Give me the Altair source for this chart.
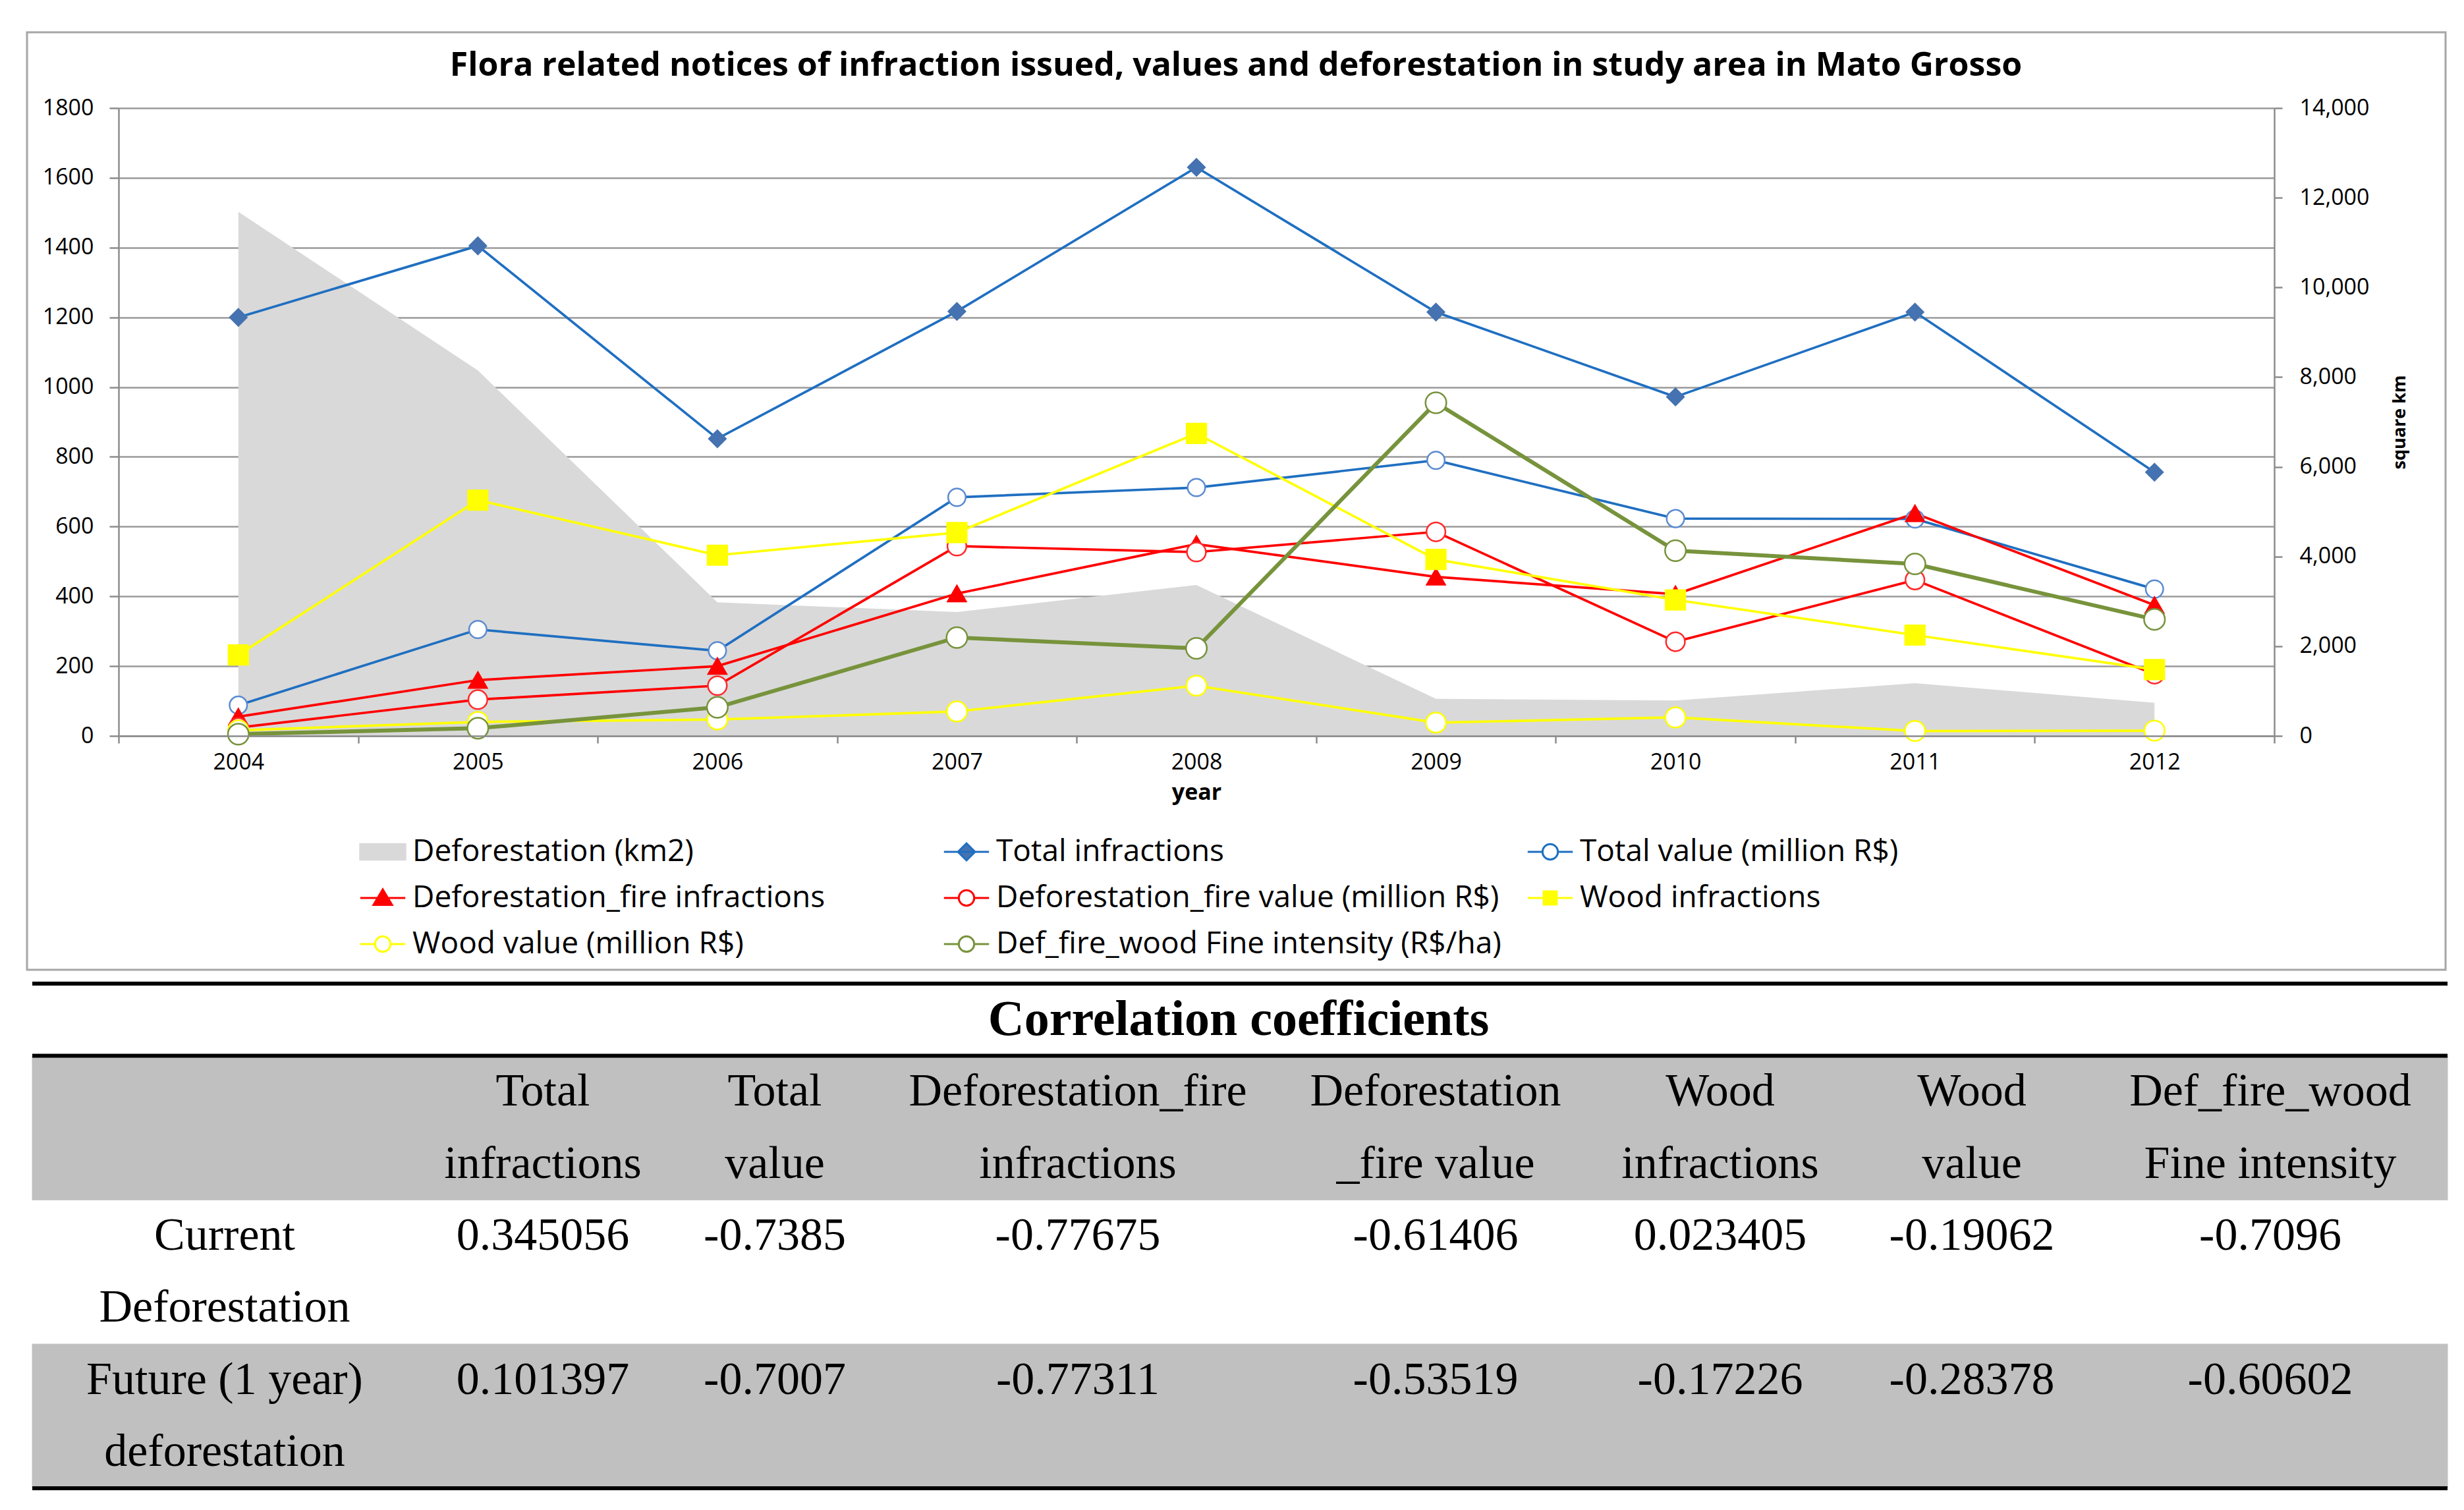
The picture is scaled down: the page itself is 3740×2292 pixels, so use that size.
import altair as alt
import pandas as pd

# ---------------- data ----------------
years = [2004, 2005, 2006, 2007, 2008, 2009, 2010, 2011, 2012]
deforestation_km2 = [11685, 8150, 2980, 2760, 3365, 825, 790, 1175, 740]
total_infractions = [1200, 1405, 852, 1217, 1630, 1215, 972, 1215, 756]
total_value = [88, 305, 244, 684, 712, 790, 623, 622, 421]
defire_infractions = [55, 160, 200, 408, 550, 456, 406, 638, 375]
defire_value = [24, 104, 144, 544, 527, 585, 270, 447, 177]
wood_infractions = [232, 676, 518, 583, 867, 506, 390, 289, 190]
wood_value = [16, 40, 47, 70, 144, 38, 53, 14, 15]
fine_intensity = [5, 22, 82, 282, 251, 955, 531, 493, 334]

series_names = [
    "Total infractions",
    "Total value (million R$)",
    "Deforestation_fire infractions",
    "Deforestation_fire value (million R$)",
    "Wood infractions",
    "Wood value (million R$)",
    "Def_fire_wood Fine intensity (R$/ha)",
]
series_values = [total_infractions, total_value, defire_infractions, defire_value,
                 wood_infractions, wood_value, fine_intensity]
area_name = "Deforestation (km2)"
chart_title = "Flora related notices of infraction issued, values and deforestation in study area in Mato Grosso"

line_colors = ["#1f6fc1", "#1f6fc1", "#ff0000", "#ff0000", "#ffff00", "#ffff00", "#77933c"]
marker_shapes = ["diamond", "circle", "triangle-up", "circle", "square", "circle", "circle"]
marker_fills = ["#4572b0", "white", "#ff0000", "white", "#ffff00", "white", "white"]
marker_strokes = ["#4572b0", "#5b8bd0", "#ff0000", "#ff2a2a", "#ffff00", "#ffff00", "#77933c"]
marker_sizes = [650, 1000, 800, 1000, 420, 1000, 1000]

# table
table_title = "Correlation coefficients"
header_line1 = ["", "Total", "Total", "Deforestation_fire", "Deforestation", "Wood", "Wood", "Def_fire_wood"]
header_line2 = ["", "infractions", "value", "infractions", "_fire value", "infractions", "value", "Fine intensity"]
row_label_line1 = ["Current", "Future (1 year)"]
row_label_line2 = ["Deforestation", "deforestation"]
current_corr = [0.345056, -0.7385, -0.77675, -0.61406, 0.023405, -0.19062, -0.7096]
future_corr = [0.101397, -0.7007, -0.77311, -0.53519, -0.17226, -0.28378, -0.60602]

FONT = "Open Sans"
SERIF = "Liberation Serif"
W, H = 3272, 953

# ---------------- frames ----------------
long_rows = []
for name, vals in zip(series_names, series_values):
    for y, v in zip(years, vals):
        long_rows.append({"year": y, "series": name, "value": v})
df_long = pd.DataFrame(long_rows)
df_area = pd.DataFrame({"year": years, "defor": deforestation_km2})

x_enc = alt.X(
    "year:O",
    scale=alt.Scale(type="band", paddingInner=0, paddingOuter=0),
    axis=alt.Axis(
        title="year", titleFont=FONT, titleFontWeight="bold", titleFontSize=34,
        titlePadding=12, titleColor="black",
        labelFont=FONT, labelFontSize=34, labelAngle=0, labelPadding=12, labelColor="black",
        tickBand="extent", tickSize=11, tickColor="#8c8c8c", tickWidth=2.5,
        domainColor="#8c8c8c", domainWidth=2.5, grid=False, zindex=1,
    ),
)

y_left = alt.Y(
    "value:Q",
    scale=alt.Scale(domain=[0, 1800], nice=False),
    axis=alt.Axis(
        title=None, values=list(range(0, 1801, 200)), format="d",
        grid=True, gridColor="#9a9a9a", gridWidth=2.5,
        domainColor="#8c8c8c", domainWidth=2.5, tickColor="#8c8c8c", tickWidth=2.5,
        tickSize=14, labelPadding=24, labelFont=FONT, labelFontSize=34, labelColor="black",
    ),
)

area = alt.Chart(df_area).mark_area(color="#d9d9d9", opacity=1).encode(
    x=x_enc,
    y=alt.Y(
        "defor:Q",
        scale=alt.Scale(domain=[0, 14000], nice=False),
        axis=alt.Axis(
            orient="right", values=list(range(0, 14001, 2000)), format=",d",
            grid=False, domainColor="#8c8c8c", domainWidth=2.5, tickColor="#8c8c8c",
            tickWidth=2.5, tickSize=12, labelPadding=26, labelFont=FONT, labelFontSize=34,
            labelColor="black", title="square km", titleFont=FONT, titleFontSize=27,
            titleFontWeight="bold", titleAngle=270, titlePadding=60, titleColor="black",
        ),
    ),
)

color_enc = alt.Color("series:N", scale=alt.Scale(domain=series_names, range=line_colors), legend=None)
thin_names = series_names[:-1]
lines_thin = alt.Chart(df_long).transform_filter(
    alt.FieldOneOfPredicate(field="series", oneOf=thin_names)
).mark_line(strokeWidth=3.7).encode(x=x_enc, y=y_left, color=color_enc)
lines_thick = alt.Chart(df_long).transform_filter(
    alt.FieldEqualPredicate(field="series", equal=series_names[-1])
).mark_line(strokeWidth=6).encode(x=x_enc, y=y_left, color=color_enc)

points = alt.Chart(df_long).mark_point(filled=True, opacity=1, strokeWidth=2.5).encode(
    x=x_enc,
    y=y_left,
    shape=alt.Shape("series:N", scale=alt.Scale(domain=series_names, range=marker_shapes), legend=None),
    fill=alt.Fill("series:N", scale=alt.Scale(domain=series_names, range=marker_fills), legend=None),
    stroke=alt.Stroke("series:N", scale=alt.Scale(domain=series_names, range=marker_strokes), legend=None),
    size=alt.Size("series:N", scale=alt.Scale(domain=series_names, range=marker_sizes), legend=None),
)

title_mark = alt.Chart(pd.DataFrame({"t": [chart_title]})).mark_text(
    font=FONT, fontSize=50, fontWeight="bold", color="black", align="center", baseline="middle"
).encode(text="t:N", x=alt.value(1696), y=alt.value(-64))

# ---------------- legend (native legend, custom line+marker symbols) ----------------
seg = "M-1.9,0H-0.65M0.65,0H1.9"
circ = "M-0.65,0A0.65,0.65 0 1,0 0.65,0A0.65,0.65 0 1,0 -0.65,0Z"
legend_entries = [area_name] + series_names
legend_shapes = [
    "M-1.9,-0.65H1.9V0.65H-1.9Z",
    "M-1.9,0H1.9M-0.72,0L0,-0.72L0.72,0L0,0.72Z",
    seg + circ,
    "M-1.9,0H1.9M0,-0.72L0.78,0.58L-0.78,0.58Z",
    seg + circ,
    "M-1.9,0H1.9M-0.55,-0.55H0.55V0.55H-0.55Z",
    seg + circ,
    seg + circ,
]
legend_strokes = ["#d9d9d9"] + line_colors
legend_fills = ["#d9d9d9"] + marker_fills

leg_def = alt.Legend(
    orient="none", legendX=378, legendY=1106, columns=3, direction="horizontal",
    gridAlign="all", columnPadding=33, rowPadding=24, symbolSize=1296,
    symbolStrokeWidth=3, labelFont=FONT, labelFontSize=46, labelColor="black",
    labelOffset=22, labelLimit=2000, title=None, padding=0,
)
legend_layer = alt.Chart(pd.DataFrame({"entry": legend_entries})).transform_filter("false").mark_point(
    filled=True, opacity=1
).encode(
    shape=alt.Shape("entry:N", scale=alt.Scale(domain=legend_entries, range=legend_shapes), legend=leg_def),
    stroke=alt.Stroke("entry:N", scale=alt.Scale(domain=legend_entries, range=legend_strokes), legend=leg_def),
    fill=alt.Fill("entry:N", scale=alt.Scale(domain=legend_entries, range=legend_fills), legend=leg_def),
)

# ---------------- frame around the chart panel ----------------
frame = alt.Chart(pd.DataFrame({"k": [0]})).mark_rect(
    filled=False, stroke="#a6a6a6", strokeWidth=3
).encode(x=alt.value(-139), x2=alt.value(3532), y=alt.value(-115), y2=alt.value(1308))

# ---------------- table ----------------
cells = []
for c in range(1, 8):
    cells.append({"col": c, "slot": 1, "text": header_line1[c]})
    cells.append({"col": c, "slot": 2, "text": header_line2[c]})
for r in range(2):
    cells.append({"col": 0, "slot": 3 + 2 * r, "text": row_label_line1[r]})
    cells.append({"col": 0, "slot": 4 + 2 * r, "text": row_label_line2[r]})
for c in range(7):
    cells.append({"col": c + 1, "slot": 3, "text": str(current_corr[c])})
    cells.append({"col": c + 1, "slot": 5, "text": str(future_corr[c])})
df_cells = pd.DataFrame(cells)

slot_scale = alt.Scale(type="band", domain=list(range(7)), range=[1329, 2095], paddingInner=0, paddingOuter=0)
col_scale = alt.Scale(type="linear", domain=list(range(8)),
                      range=[161, 644, 996, 1456, 1999, 2431, 2813, 3266])

t_bg = alt.Chart(pd.DataFrame({"slot": [1, 2, 5, 6]})).mark_rect(color="#c0c0c0", stroke="#c0c0c0", strokeWidth=1).encode(
    y=alt.Y("slot:O", scale=slot_scale, axis=None), x=alt.value(-131), x2=alt.value(3535)
)
t_rules_top = alt.Chart(pd.DataFrame({"slot": [0, 1]})).mark_rule(color="black", strokeWidth=6).encode(
    y=alt.Y("slot:O", scale=slot_scale, axis=None, bandPosition=0), x=alt.value(-131), x2=alt.value(3535)
)
t_rule_bottom = alt.Chart(pd.DataFrame({"slot": [6]})).mark_rule(color="black", strokeWidth=6).encode(
    y=alt.Y("slot:O", scale=slot_scale, axis=None, bandPosition=1), x=alt.value(-131), x2=alt.value(3535)
)
t_title = alt.Chart(pd.DataFrame({"slot": [0], "text": [table_title]})).mark_text(
    font=SERIF, fontSize=76, fontWeight="bold", color="black", baseline="middle", align="center"
).encode(y=alt.Y("slot:O", scale=slot_scale, axis=None), x=alt.value(1700), text="text:N")
t_text = alt.Chart(df_cells).mark_text(
    font=SERIF, fontSize=70, color="black", baseline="middle", align="center"
).encode(
    x=alt.X("col:Q", scale=col_scale, axis=None),
    y=alt.Y("slot:O", scale=slot_scale, axis=None),
    text="text:N",
)
table = alt.layer(t_bg, t_rules_top, t_rule_bottom, t_title, t_text)

# ---------------- compose ----------------
plot = alt.layer(area, alt.layer(lines_thin, lines_thick, points)).resolve_scale(y="independent")
with_legend = alt.layer(plot, legend_layer).resolve_scale(
    shape="independent", fill="independent", stroke="independent"
)
chart = alt.layer(frame, title_mark, with_legend, table).resolve_scale(
    x="independent", y="independent"
).properties(
    width=W,
    height=H,
    padding={"left": 31, "top": 39, "right": 10, "bottom": 10},
).configure_view(stroke=None).configure(background="white")

chart.save("out.html", embed_options={"renderer": "svg", "actions": False})
